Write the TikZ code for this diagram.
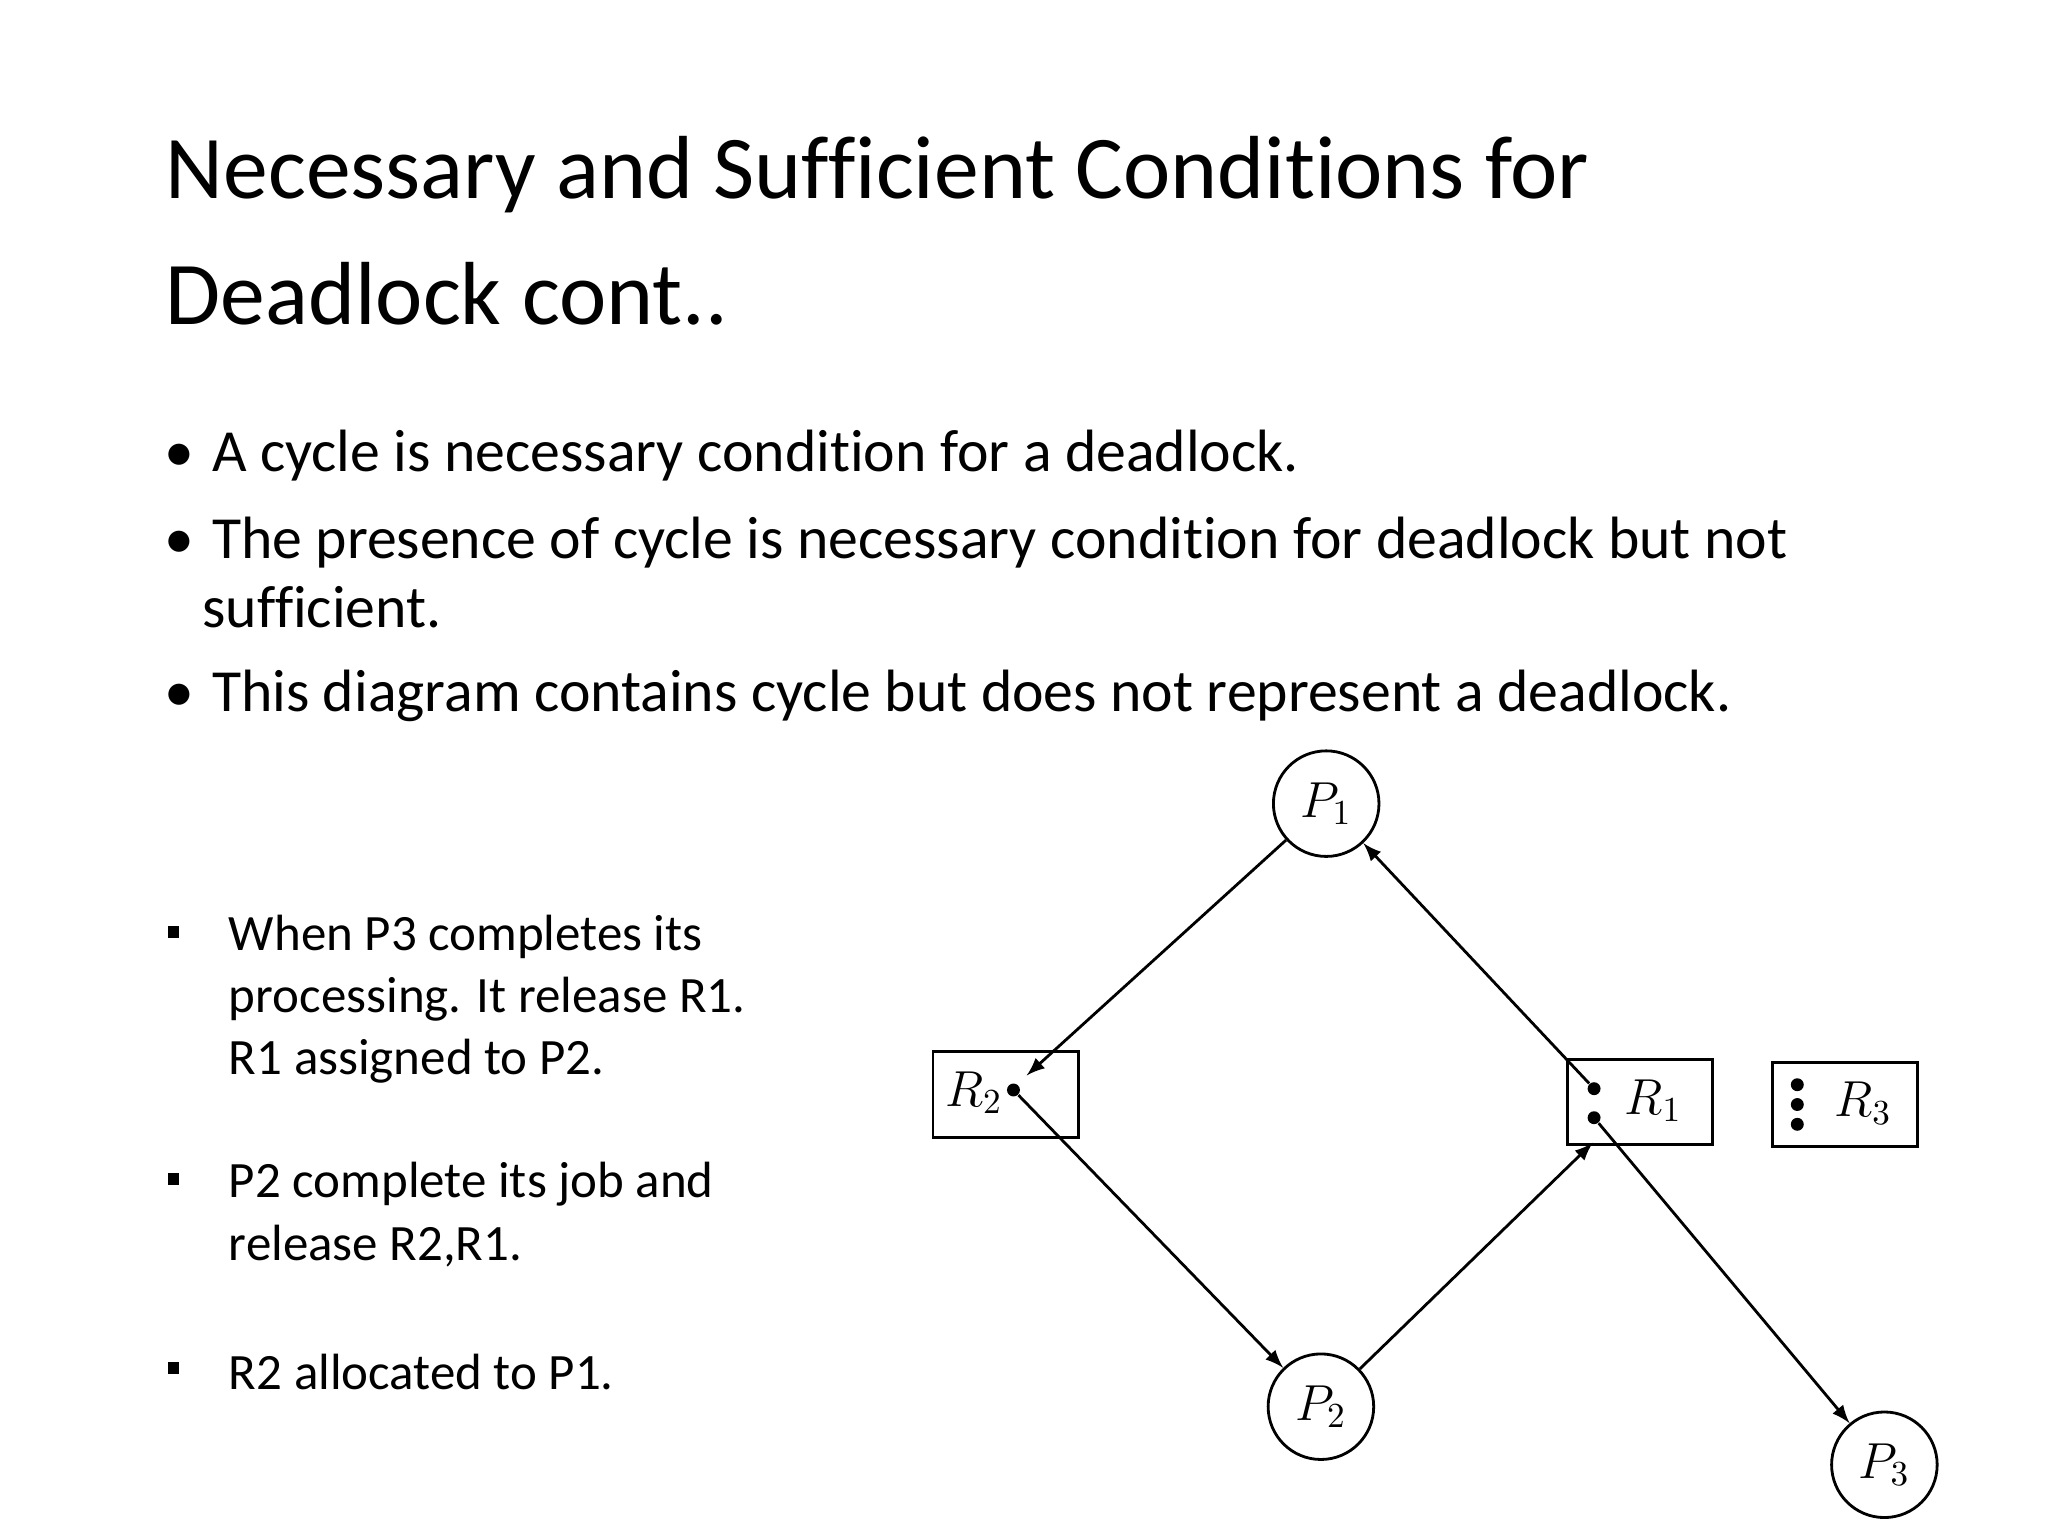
\documentclass[tikz,border=0pt]{standalone}
\usepackage{fontspec}
\setmainfont[RawFeature=-liga]{Carlito}
\begin{document}
\begin{tikzpicture}[x=0.0132cm,y=-0.0132cm,
 proc/.style={draw,circle,minimum size=80*0.0132cm,inner sep=0pt,thick,font=\Large},
 res/.style={draw,rectangle,thick},
 arr/.style={-latex,thick},
 dot/.style={circle,fill,inner sep=1.3pt},
 txt/.style={anchor=west,inner sep=0pt,font=\fontsize{17}{20}\selectfont},
 stxt/.style={anchor=west,inner sep=0pt,font=\fontsize{14.5}{17}\selectfont}]
\useasboundingbox (0,0) rectangle (1552,1164);
\node[anchor=west,inner sep=0pt,align=left,font=\fontsize{25.5}{36}\selectfont] (title) at (125,175) {Necessary and Sufficient Conditions for\\Deadlock cont..};
\node[txt] (b1) at (124,345) {•\hspace{0.3em}A cycle is necessary condition for a deadlock.};
\node[txt] (b2) at (124,411) {•\hspace{0.3em}The presence of cycle is necessary condition for deadlock but not};
\node[txt] (b2b) at (153,460) {sufficient.};
\node[txt] (b3) at (124,527) {•\hspace{0.3em}This diagram contains cycle but does not represent a deadlock.};
\foreach \y in {707,894,1037}{\fill (127,\y-5) rectangle ++(9,9);}
\node[stxt] (s1) at (173,710) {When P3 completes its};
\node[stxt] (s2) at (173,757) {processing. It release R1.};
\node[stxt] (s3) at (173,804) {R1 assigned to P2.};
\node[stxt] (s4) at (173,897) {P2 complete its job and};
\node[stxt] (s5) at (173,944) {release R2,R1.};
\node[stxt] (s6) at (173,1040) {R2 allocated to P1.};
% graph
\node[proc] (P1) at (1005,609) {$P_1$};
\node[proc] (P2) at (1001,1066) {$P_2$};
\node[proc] (P3) at (1428,1110) {$P_3$};
\draw[res] (707,797) rectangle (817,862);
\draw[res] (1188,803) rectangle (1298,867);
\draw[res] (1343,805) rectangle (1453,869);
\node[font=\Large] (R2l) at (738,828) {$R_2$};
\node[font=\Large] (R1l) at (1253,834) {$R_1$};
\node[font=\Large] (R3l) at (1412,836) {$R_3$};
\node[dot] (d2) at (768,826) {};
\node[dot] (d1a) at (1208,825) {};
\node[dot] (d1b) at (1208,847) {};
\node[dot] (d3a) at (1362,822) {};
\node[dot] (d3b) at (1362,837) {};
\node[dot] (d3c) at (1362,852) {};
\coordinate (R2in) at (778,815);
\coordinate (R1in) at (1207,866);
\draw[arr] (P1) -- (R2in);
\draw[arr] (d1a) -- (P1);
\draw[arr] (d2) -- (P2);
\draw[arr] (P2) -- (R1in);
\draw[arr] (d1b) -- (P3);
\end{tikzpicture}
\end{document}
